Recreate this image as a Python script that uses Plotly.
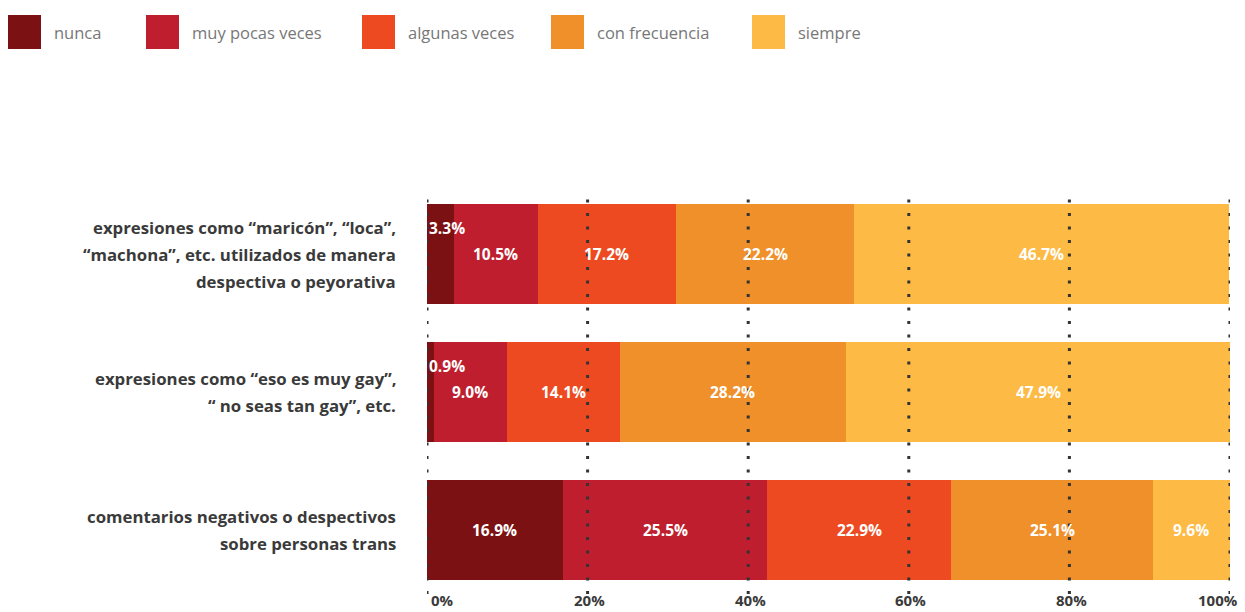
import plotly.graph_objects as go

# ---------------- data ----------------
categories = [
    "expresiones como “maricón”, “loca”,\n“machona”, etc. utilizados de manera\ndespectiva o peyorativa",
    "expresiones como “eso es muy gay”,\n“ no seas tan gay”, etc.",
    "comentarios negativos o despectivos\nsobre personas trans",
]
series_names = ["nunca", "muy pocas veces", "algunas veces", "con frecuencia", "siempre"]
nunca = [3.3, 0.9, 16.9]
muy_pocas = [10.5, 9.0, 25.5]
algunas = [17.2, 14.1, 22.9]
frecuencia = [22.2, 28.2, 25.1]
siempre = [46.7, 47.9, 9.6]
series_values = [nunca, muy_pocas, algunas, frecuencia, siempre]
colors = ["#7b1113", "#bf1e2e", "#ee4a22", "#f0902a", "#fdba45"]
tick_vals = [0, 20, 40, 60, 80, 100]
tick_text = ["0%", "20%", "40%", "60%", "80%", "100%"]

# ---------------- layout helpers ----------------
W, H = 1245, 612
L, R, T, B = 427, 15, 190, 18
PW, PH = W - L - R, H - T - B
def px(x):  # pixel -> paper x
    return (x - L) / PW
def py(y):  # pixel -> paper y
    return (H - B - y) / PH

FONT = "Open Sans"
fig = go.Figure()

for name, vals, col in zip(series_names, series_values, colors):
    fig.add_trace(go.Bar(
        y=categories, x=vals, name=name, orientation="h",
        marker=dict(color=col, line=dict(width=0)),
        showlegend=False, hoverinfo="x+name",
    ))

annotations = []
# value labels
lab_font = dict(family=FONT, size=15.5, color="white", weight="bold")
for ci, cat in enumerate(categories):
    base = 0.0
    for vals in series_values:
        v = vals[ci]
        label = f"{v:.1f}%"
        if v < 5:
            annotations.append(dict(x=base, y=cat, xref="x", yref="y", text=label,
                                    xanchor="left", yanchor="middle", xshift=0, yshift=26,
                                    showarrow=False, font=lab_font))
        else:
            annotations.append(dict(x=base + v / 2, y=cat, xref="x", yref="y", text=label,
                                    xanchor="center", yanchor="middle", showarrow=False,
                                    font=lab_font))
        base += v

# category labels, one annotation per line for line spacing
LINE = 27
for cat in categories:
    lines = cat.split("\n")
    n = len(lines)
    for j, ln in enumerate(lines):
        annotations.append(dict(x=0, y=cat, xref="paper", yref="y", text=ln,
                                xanchor="right", yanchor="middle", xshift=-29,
                                yshift=-(j - (n - 1) / 2) * LINE, showarrow=False,
                                font=dict(family=FONT, size=16.8, color="#3a3a3a", weight="bold")))

# x tick labels
for k, (tv, tt) in enumerate(zip(tick_vals, tick_text)):
    anchor = "left" if k == 0 else ("right" if k == len(tick_vals) - 1 else "center")
    annotations.append(dict(x=tv, y=py(612), xref="x", yref="paper", text=tt,
                            xanchor=anchor, yanchor="bottom", showarrow=False,
                            xshift=(2 if k == 0 else (10 if k == len(tick_vals) - 1 else 2)),
                            font=dict(family=FONT, size=15, color="#3a3a3a", weight="bold")))

# manual legend
legend_sq_x = [8, 146, 362, 551, 752]
shapes = []
for name, col, x0 in zip(series_names, colors, legend_sq_x):
    shapes.append(dict(type="rect", xref="paper", yref="paper",
                       x0=px(x0), x1=px(x0 + 33), y0=py(49), y1=py(15),
                       fillcolor=col, line=dict(width=0), layer="above"))
    annotations.append(dict(x=px(x0 + 44), y=py(32), xref="paper", yref="paper", text=name,
                            xanchor="left", yanchor="middle", showarrow=False,
                            font=dict(family=FONT, size=16.5, color="#777777")))

# dotted gridlines above bars
for tv in tick_vals:
    shapes.append(dict(type="line", xref="x", yref="paper", x0=tv, x1=tv, y0=0, y1=1,
                       line=dict(color="#333333", width=3, dash="3px,10.5px"), layer="above"))

fig.update_layout(
    width=W, height=H,
    barmode="stack", bargap=0.275,
    paper_bgcolor="white", plot_bgcolor="white",
    margin=dict(l=L, r=R, t=T, b=B),
    annotations=annotations, shapes=shapes,
    xaxis=dict(range=[0, 100], tickvals=tick_vals, showticklabels=False,
               showgrid=False, zeroline=False, showline=False, ticks="", fixedrange=True),
    yaxis=dict(type="category", categoryarray=categories, range=[2.464, -0.464],
               showticklabels=False, showgrid=False, zeroline=False, showline=False,
               ticks="", fixedrange=True),
    showlegend=False,
)

fig.write_html("out.html", config={"displayModeBar": False},
               post_script="document.body.style.margin='0';document.body.style.overflow='hidden';")
